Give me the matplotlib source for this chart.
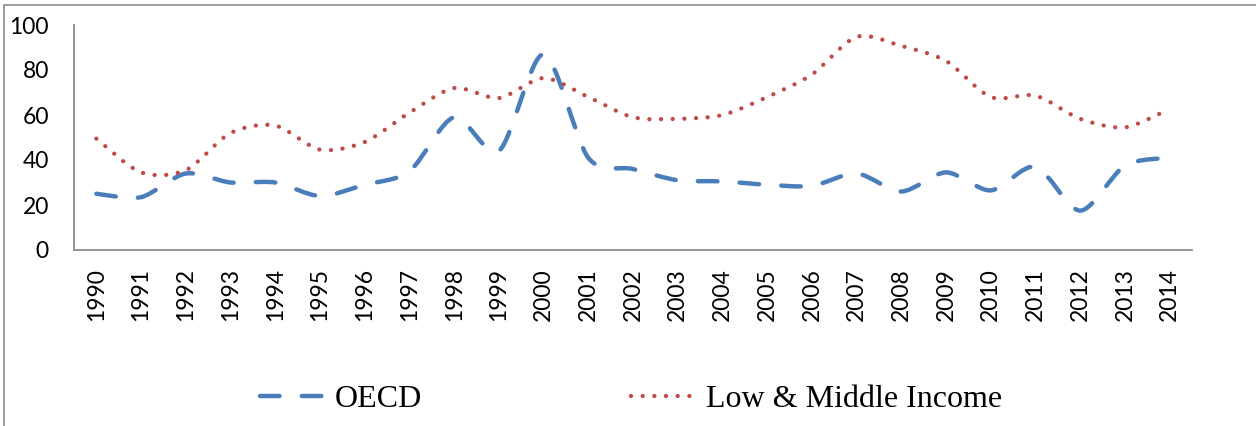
import matplotlib.pyplot as plt
from matplotlib.path import Path
from matplotlib.patches import PathPatch, Rectangle
from matplotlib.lines import Line2D
import numpy as np

years = list(range(1990, 2015))
oecd = [25, 23.5, 34, 30, 30, 24, 29, 35, 59, 44, 87, 41, 36, 31, 30.5,
        29, 28.5, 34, 26, 34.5, 26.5, 37, 17.5, 37.5, 41]
low_mid = [49.5, 34.5, 35.5, 52, 55.3, 44.6, 48, 61, 72, 67.5, 76.4, 68, 59,
           58.3, 60, 68, 78, 94.7, 90.7, 84, 68, 68.6, 58.3, 54.5, 62.7]
yticks = [0, 20, 40, 60, 80, 100]

blue = '#4a7ebb'
red = '#be4b48'
grey = '#8c8c8c'


def smooth_path(x, y):
    # Excel-style smoothed line: cubic bezier through each point
    pts = np.column_stack([x, y]).astype(float)
    n = len(pts)
    verts = [pts[0]]
    codes = [Path.MOVETO]
    for i in range(n - 1):
        p0 = pts[max(i - 1, 0)]
        p1 = pts[i]
        p2 = pts[i + 1]
        p3 = pts[min(i + 2, n - 1)]
        verts += [p1 + (p2 - p0) / 7, p2 - (p3 - p1) / 7, p2]
        codes += [Path.CURVE4] * 3
    return Path(verts, codes)


lw_b = 3.2
lw_r = 3.1
dash_style = (0, (4.4, 5.0))
dot_style = (0, (0.01, 2.7))

fig = plt.figure(figsize=(12.56, 4.26), dpi=100)
ax = fig.add_axes([74 / 1256, 1 - 250 / 426, 1118 / 1256, 225 / 426])

p1 = PathPatch(smooth_path(years, oecd), fill=False, ec=blue, lw=lw_b,
               ls=dash_style, capstyle='round', joinstyle='round')
p2 = PathPatch(smooth_path(years, low_mid), fill=False, ec=red, lw=lw_r,
               ls=dot_style, capstyle='round', joinstyle='round')
ax.add_patch(p1)
ax.add_patch(p2)

ax.set_xlim(years[0] - 0.5, years[-1] + 0.5)
ax.set_ylim(0, 100)
ax.set_xticks(years)
ax.set_xticklabels([str(y) for y in years], rotation=90,
                   family='Lato', fontsize=16.5)
ax.set_yticks(yticks)
ax.set_yticklabels([str(v) for v in yticks], family='Lato', fontsize=16.5)
ax.tick_params(axis='x', length=0, pad=13)
ax.tick_params(axis='y', length=0, pad=18)
for s in ['top', 'right']:
    ax.spines[s].set_visible(False)
for s in ['left', 'bottom']:
    ax.spines[s].set_color(grey)
    ax.spines[s].set_linewidth(1.3)

# chart area border
fig.add_artist(Rectangle((4 / 1256, -0.1), 1.2, 1.1 - 5 / 426,
                         transform=fig.transFigure, fill=False,
                         ec=grey, lw=1.2))

handles = [
    Line2D([], [], color=blue, lw=lw_b, ls=dash_style, dash_capstyle='round'),
    Line2D([], [], color=red, lw=lw_r, ls=dot_style, dash_capstyle='round'),
]
fig.legend(handles, ['OECD', 'Low & Middle Income'], loc='center',
           bbox_to_anchor=(0.5024, 0.062), ncol=2, frameon=False,
           prop={'family': 'Liberation Serif', 'size': 23},
           handlelength=2.0, handletextpad=0.35, columnspacing=6.55)

fig.savefig('out.png', dpi=100)
